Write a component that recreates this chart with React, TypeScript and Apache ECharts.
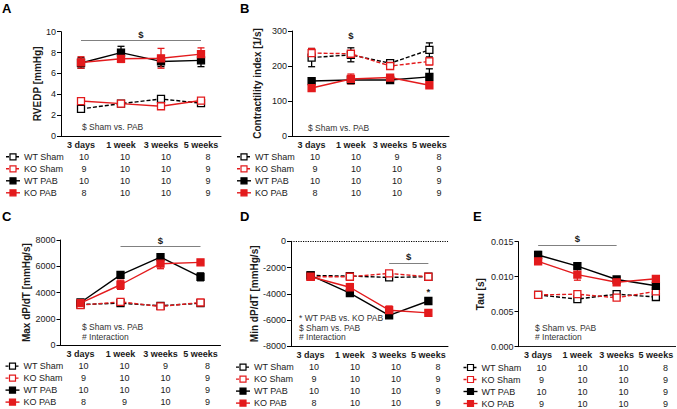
import React, { useEffect, useRef } from 'react';
import * as echarts from 'echarts';

const categories = ['3 days', '1 week', '3 weeks', '5 weeks'];
const groupNames = ['WT Sham', 'KO Sham', 'WT PAB', 'KO PAB'];

// Panel A: RVEDP [mmHg]
const rvedpWTSham = [2.6, 3.1, 3.55, 3.15];
const rvedpWTShamErr = [0.1, 0.15, 0.15, 0.15];
const rvedpKOSham = [3.35, 3.1, 2.85, 3.4];
const rvedpKOShamErr = [0.2, 0.15, 0.2, 0.15];
const rvedpWTPAB = [7.0, 8.0, 7.15, 7.25];
const rvedpWTPABErr = [0.5, 0.6, 0.5, 0.6];
const rvedpKOPAB = [7.05, 7.4, 7.45, 7.85];
const rvedpKOPABErr = [0.55, 0.35, 0.95, 0.6];
const rvedpN = [[10, 10, 10, 8], [9, 10, 10, 9], [10, 10, 10, 9], [8, 10, 10, 9]];

// Panel B: Contractility index [1/s]
const ciWTSham = [224, 232, 208, 246];
const ciWTShamErr = [26, 20, 10, 20];
const ciKOSham = [237, 235, 200, 213];
const ciKOShamErr = [13, 6, 6, 10];
const ciWTPAB = [157, 160, 160, 169];
const ciWTPABErr = [5, 10, 5, 23];
const ciKOPAB = [137, 163, 167, 145];
const ciKOPABErr = [3, 14, 7, 5];
const ciN = [[10, 10, 9, 8], [9, 10, 10, 9], [10, 10, 10, 9], [8, 10, 10, 9]];

// Panel C: Max dP/dT [mmHg/s]
const maxWTSham = [3100, 3200, 3000, 3200];
const maxWTShamErr = [100, 100, 100, 100];
const maxKOSham = [3050, 3300, 2950, 3250];
const maxKOShamErr = [100, 100, 100, 100];
const maxWTPAB = [3250, 5350, 6700, 5200];
const maxWTPABErr = [100, 180, 220, 300];
const maxKOPAB = [3200, 4600, 6200, 6300];
const maxKOPABErr = [100, 350, 380, 150];
const maxN = [[10, 10, 9, 8], [9, 10, 10, 9], [10, 10, 10, 9], [8, 9, 10, 9]];

// Panel D: Min dP/dT [mmHg/s]
const minWTSham = [-2600, -2650, -2750, -2700];
const minWTShamErr = [100, 80, 80, 80];
const minKOSham = [-2700, -2700, -2450, -2700];
const minKOShamErr = [100, 80, 150, 80];
const minWTPAB = [-2600, -3950, -5650, -4550];
const minWTPABErr = [100, 120, 120, 200];
const minKOPAB = [-2700, -3500, -5250, -5450];
const minKOPABErr = [100, 280, 320, 150];
const minN = [[10, 10, 10, 8], [9, 10, 10, 9], [10, 10, 10, 9], [8, 10, 10, 9]];

// Panel E: Tau [s]
const tauWTSham = [0.0074, 0.0068, 0.0075, 0.0071];
const tauWTShamErr = [0.0003, 0.0002, 0.0003, 0.0003];
const tauKOSham = [0.0074, 0.0075, 0.0070, 0.0079];
const tauKOShamErr = [0.0003, 0.0002, 0.0002, 0.0004];
const tauWTPAB = [0.0131, 0.0115, 0.0096, 0.0087];
const tauWTPABErr = [0.0005, 0.0003, 0.0003, 0.0004];
const tauKOPAB = [0.0122, 0.0103, 0.0092, 0.0097];
const tauKOPABErr = [0.0004, 0.0008, 0.0004, 0.0003];
const tauN = [[10, 10, 10, 8], [9, 10, 10, 9], [10, 10, 10, 9], [9, 10, 10, 9]];

const FONT = "'Liberation Sans', Arial, Helvetica, sans-serif";
const RED = '#e31a1c';
const BLACK = '#000000';
const TEXT = '#1a1a1a';

const groupStyles = [
  { color: BLACK, dashed: true, open: true },
  { color: RED, dashed: true, open: true },
  { color: BLACK, dashed: false, open: false },
  { color: RED, dashed: false, open: false },
];

type Panel = {
  letter: string;
  letterPos: [number, number];
  grid: { left: number; top: number; width: number; height: number };
  yMin: number; yMax: number; yInterval: number; decimals: number;
  yName: string; nameGap: number;
  means: number[][]; errs: number[][]; counts: number[][];
  sig: { from: number; to: number; y: number } | null;
  dollar?: [number, number];
  star?: [number, number];
  zeroLine?: boolean;
  dottedX?: boolean;
  koShamSolid?: boolean;
  notes: string[]; noteX: number; noteY: number;
};

const panels: Panel[] = [
  {
    letter: 'A', letterPos: [2, 8],
    grid: { left: 61, top: 31.7, width: 160, height: 104.3 },
    yMin: 0, yMax: 10, yInterval: 2, decimals: 0, yName: 'RVEDP [mmHg]', nameGap: 18,
    means: [rvedpWTSham, rvedpKOSham, rvedpWTPAB, rvedpKOPAB],
    errs: [rvedpWTShamErr, rvedpKOShamErr, rvedpWTPABErr, rvedpKOPABErr],
    counts: rvedpN,
    sig: { from: 0, to: 3, y: 9.15 }, koShamSolid: true,
    notes: ['$ Sham vs. PAB'], noteX: 82, noteY: 127,
  },
  {
    letter: 'B', letterPos: [240, 8],
    grid: { left: 292, top: 31, width: 157, height: 105 },
    yMin: 0, yMax: 300, yInterval: 100, decimals: 0, yName: 'Contractility index [1/s]', nameGap: 30,
    means: [ciWTSham, ciKOSham, ciWTPAB, ciKOPAB],
    errs: [ciWTShamErr, ciKOShamErr, ciWTPABErr, ciKOPABErr],
    counts: ciN,
    sig: null, dollar: [1, 288],
    notes: ['$ Sham vs. PAB'], noteX: 308, noteY: 127.7,
  },
  {
    letter: 'C', letterPos: [2, 216],
    grid: { left: 60.5, top: 240, width: 160, height: 105.3 },
    yMin: 0, yMax: 8000, yInterval: 2000, decimals: 0, yName: 'Max dP/dT [mmHg/s]', nameGap: 21,
    means: [maxWTSham, maxKOSham, maxWTPAB, maxKOPAB],
    errs: [maxWTShamErr, maxKOShamErr, maxWTPABErr, maxKOPABErr],
    counts: maxN,
    sig: { from: 1, to: 3, y: 7490 },
    notes: ['$ Sham vs. PAB', '# Interaction'], noteX: 82, noteY: 327.3,
  },
  {
    letter: 'D', letterPos: [240, 216],
    grid: { left: 291, top: 241.3, width: 157, height: 105 },
    yMin: -8000, yMax: 0, yInterval: 2000, decimals: 0, yName: 'Min dP/dT [mmHg/s]', nameGap: 26,
    means: [minWTSham, minKOSham, minWTPAB, minKOPAB],
    errs: [minWTShamErr, minKOShamErr, minWTPABErr, minKOPABErr],
    counts: minN,
    sig: { from: 2, to: 3, y: -1650 }, star: [3, -3800], zeroLine: true,
    notes: ['* WT PAB vs. KO PAB', '$ Sham vs. PAB', '# Interaction'], noteX: 299, noteY: 318.3,
  },
  {
    letter: 'E', letterPos: [473, 216],
    grid: { left: 518.5, top: 241.7, width: 157, height: 105 },
    yMin: 0, yMax: 0.015, yInterval: 0.005, decimals: 3, yName: 'Tau [s]', nameGap: 33,
    means: [tauWTSham, tauKOSham, tauWTPAB, tauKOPAB],
    errs: [tauWTShamErr, tauKOShamErr, tauWTPABErr, tauKOPABErr],
    counts: tauN,
    sig: { from: 0, to: 2, y: 0.01453 }, dottedX: true,
    notes: ['$ Sham vs. PAB', '# Interaction'], noteX: 535, noteY: 327.7,
  },
];

const rowOffsets = [20.8, 32.8, 44.8, 56.8];
const colOffsets = [23, 64, 105, 147];

function txt(text: string, x: number, y: number, opts: any = {}) {
  const align = opts.align || 'left';
  return {
    type: 'text', silent: true,
    style: {
      text, x, y,
      fill: opts.fill || TEXT,
      fontSize: opts.fontSize || 9,
      fontFamily: FONT,
      fontWeight: opts.fontWeight || 'normal',
      align, textAlign: align,
      verticalAlign: 'middle', textVerticalAlign: 'middle',
    },
  };
}

function buildOption() {
  const grid: any[] = [];
  const xAxis: any[] = [];
  const yAxis: any[] = [];
  const series: any[] = [];
  const graphic: any[] = [];

  panels.forEach((p, pi) => {
    grid.push({ ...p.grid, containLabel: false });
    xAxis.push({
      type: 'category', gridIndex: pi, data: categories, boundaryGap: true,
      axisLine: { onZero: false, lineStyle: { color: BLACK, width: 1, type: p.dottedX ? 'dotted' : 'solid' } },
      axisTick: { alignWithLabel: true, length: 4, lineStyle: { color: BLACK } },
      axisLabel: { fontFamily: FONT, fontSize: 9, fontWeight: 'bold', color: TEXT, margin: 4, interval: 0 },
      splitLine: { show: false },
    });
    yAxis.push({
      type: 'value', gridIndex: pi, min: p.yMin, max: p.yMax, interval: p.yInterval,
      name: p.yName, nameLocation: 'middle', nameGap: p.nameGap, nameRotate: 90,
      nameTextStyle: { fontFamily: FONT, fontSize: 10, fontWeight: 'bold', color: TEXT },
      axisLine: { show: true, lineStyle: { color: BLACK, width: 1 } },
      axisTick: { show: true, length: 4, lineStyle: { color: BLACK } },
      axisLabel: {
        fontFamily: FONT, fontSize: 9, color: TEXT, margin: 5,
        formatter: (v: number) => v.toFixed(p.decimals),
      },
      splitLine: { show: false },
    });

    // error bars
    p.means.forEach((m, gi) => {
      const st = groupStyles[gi];
      const e = p.errs[gi];
      series.push({
        type: 'custom', xAxisIndex: pi, yAxisIndex: pi, silent: true, z: 2,
        data: m.map((v, i) => [i, v - e[i], v + e[i]]),
        renderItem: (params: any, api: any) => {
          const lo = api.coord([api.value(0), api.value(1)]);
          const hi = api.coord([api.value(0), api.value(2)]);
          const w = 3.5;
          const s = { stroke: st.color, lineWidth: 1.3 };
          return {
            type: 'group',
            children: [
              { type: 'line', shape: { x1: hi[0], y1: hi[1], x2: lo[0], y2: lo[1] }, style: s },
              { type: 'line', shape: { x1: hi[0] - w, y1: hi[1], x2: hi[0] + w, y2: hi[1] }, style: s },
              { type: 'line', shape: { x1: lo[0] - w, y1: lo[1], x2: lo[0] + w, y2: lo[1] }, style: s },
            ],
          };
        },
      });
    });

    // lines
    p.means.forEach((m, gi) => {
      const st = groupStyles[gi];
      const dashed = st.dashed && !(gi === 1 && p.koShamSolid);
      const s: any = {
        type: 'line', name: groupNames[gi], xAxisIndex: pi, yAxisIndex: pi, data: m,
        symbol: 'rect', symbolSize: 7, z: 3 + gi,
        lineStyle: { color: st.color, width: 1.4, type: dashed ? [4, 2] : 'solid' },
        itemStyle: { color: st.open ? '#ffffff' : st.color, borderColor: st.color, borderWidth: 1.3 },
        emphasis: { disabled: true },
      };
      if (gi === 0) {
        const mlData: any[] = [];
        if (p.sig) {
          mlData.push([{ coord: [p.sig.from, p.sig.y] }, { coord: [p.sig.to, p.sig.y] }]);
        }
        if (p.zeroLine) {
          mlData.push({ yAxis: 0, lineStyle: { color: BLACK, type: 'dotted', width: 1.2 }, label: { show: false } });
        }
        if (mlData.length) {
          s.markLine = {
            silent: true, symbol: ['none', 'none'], animation: false,
            lineStyle: { color: '#808080', width: 1, type: 'solid' },
            label: { show: true, position: 'middle', formatter: '$', color: TEXT, fontFamily: FONT, fontSize: 9.5, fontWeight: 'bold', distance: 1 },
            emphasis: { disabled: true },
            data: mlData,
          };
        }
        const mpData: any[] = [];
        if (p.dollar) mpData.push({ coord: p.dollar, label: { formatter: '$' } });
        if (p.star) mpData.push({ coord: p.star, label: { formatter: '*' } });
        if (mpData.length) {
          s.markPoint = {
            silent: true, symbol: 'circle', symbolSize: 1, itemStyle: { color: 'rgba(0,0,0,0)' },
            label: { show: true, position: 'inside', color: TEXT, fontFamily: FONT, fontSize: 9.5, fontWeight: 'bold' },
            data: mpData,
          };
        }
      }
      series.push(s);
    });

    // panel letter
    graphic.push(txt(p.letter, p.letterPos[0], p.letterPos[1], { fontSize: 13, fontWeight: 'bold', fill: '#000' }));

    // annotations
    p.notes.forEach((n, i) => {
      graphic.push(txt(n, p.noteX, p.noteY + i * 9.5, { fontSize: 8.5, fill: '#333' }));
    });

    // table
    const bottom = p.grid.top + p.grid.height;
    const L = p.grid.left;
    p.counts.forEach((row, gi) => {
      const st = groupStyles[gi];
      const y = bottom + rowOffsets[gi];
      graphic.push({
        type: 'line', silent: true,
        shape: { x1: L - 55, y1: y, x2: L - 41, y2: y },
        style: { stroke: st.color, lineWidth: 1.4, lineDash: st.dashed ? [3, 2] : null },
      });
      graphic.push({
        type: 'rect', silent: true,
        shape: { x: L - 51, y: y - 3, width: 6, height: 6 },
        style: { fill: st.open ? '#ffffff' : st.color, stroke: st.color, lineWidth: 1.2 },
      });
      graphic.push(txt(groupNames[gi], L - 37, y, { fontSize: 9 }));
      row.forEach((n, ci) => {
        graphic.push(txt(String(n), L + colOffsets[ci], y, { fontSize: 9, align: 'center' }));
      });
    });
  });

  return {
    animation: false,
    backgroundColor: '#ffffff',
    textStyle: { fontFamily: FONT },
    grid, xAxis, yAxis, series, graphic,
  };
}

export default function App() {
  const ref = useRef<HTMLDivElement>(null);
  useEffect(() => {
    if (!ref.current) return;
    const chart = echarts.init(ref.current, undefined, { renderer: 'svg' });
    chart.setOption(buildOption() as any);
    return () => chart.dispose();
  }, []);
  return <div ref={ref} style={{ width: 677, height: 409, position: 'absolute', left: 0, top: 0 }} />;
}
